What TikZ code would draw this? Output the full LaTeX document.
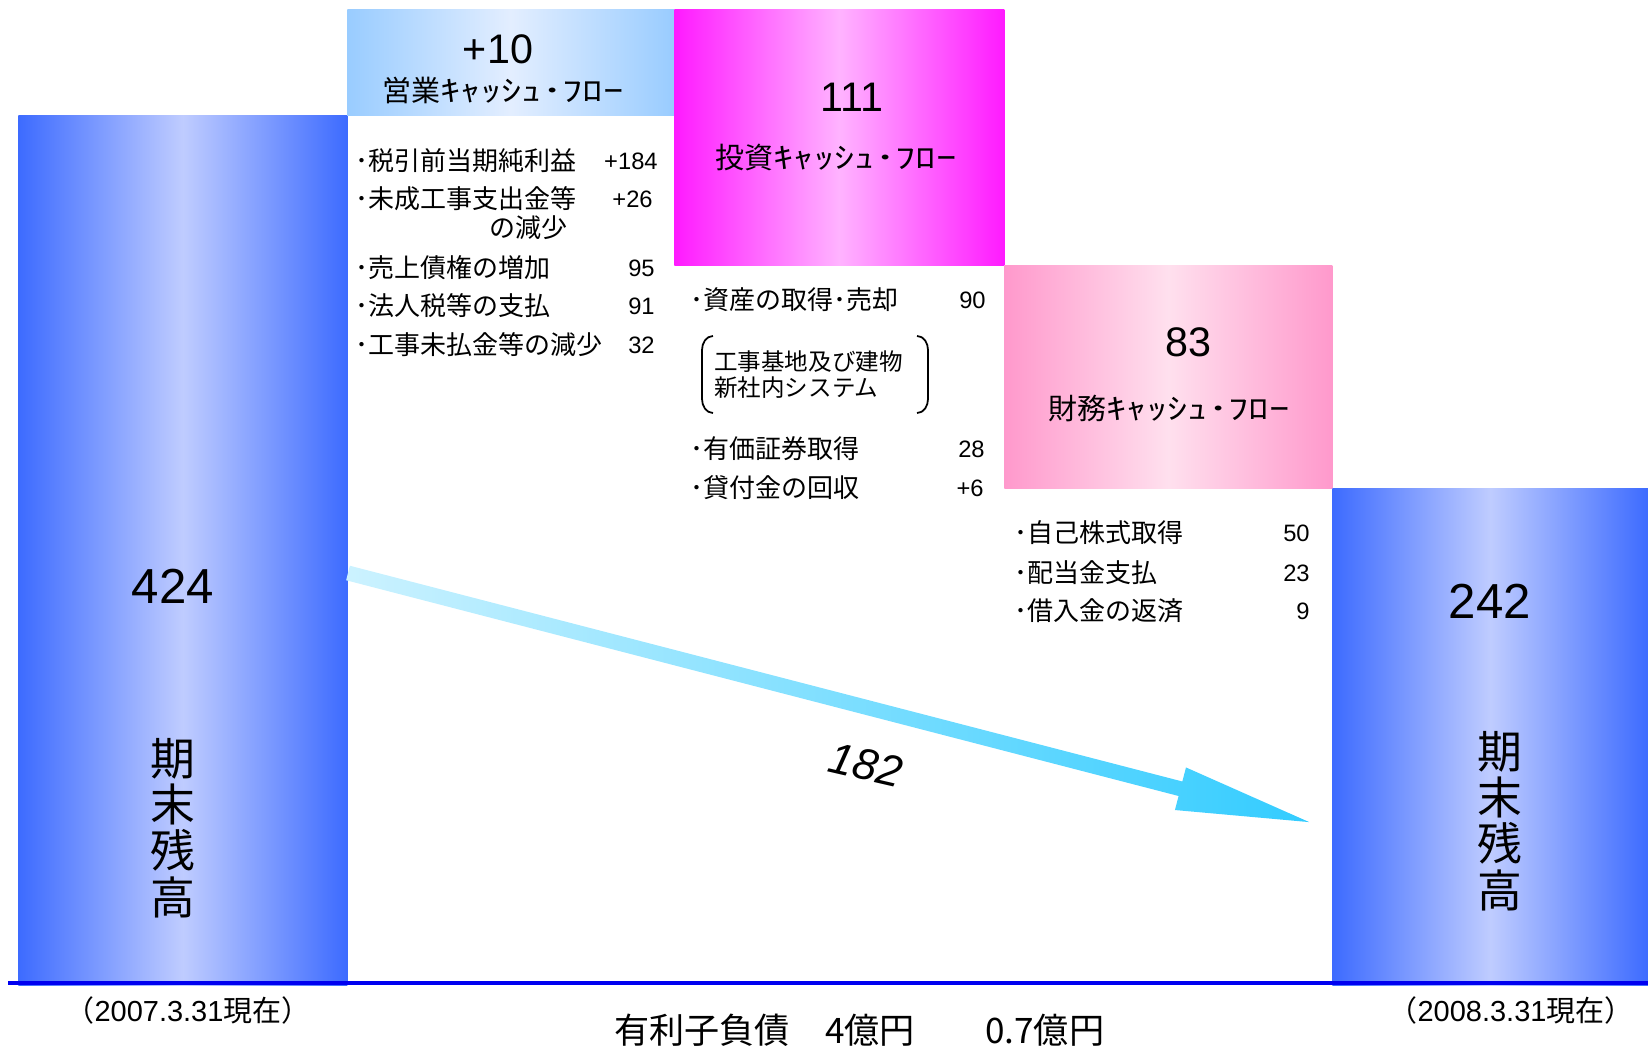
\documentclass[tikz,border=0pt]{standalone}
\usepackage{fontspec}
\setmainfont{Liberation Sans}
\newfontfamily\jp{Noto Sans CJK JP}
\newfontfamily\jpwide{Noto Sans CJK JP}[FakeStretch=1.4]
\definecolor{barblue}{HTML}{3D6BFF}
\definecolor{barlight}{HTML}{BFCCFF}
\definecolor{opedge}{HTML}{99CCFF}
\definecolor{opmid}{HTML}{E3EEFF}
\definecolor{invedge}{HTML}{FF1AFF}
\definecolor{invmid}{HTML}{FFB3FF}
\definecolor{finedge}{HTML}{FF99CC}
\definecolor{finmid}{HTML}{FFE0EE}
\definecolor{flowlight}{HTML}{CCF2FF}
\definecolor{flowdark}{HTML}{33CCFF}
\definecolor{baseblue}{HTML}{0000F0}
\begin{document}
\begin{tikzpicture}[x=0.02cm, y=-0.02cm,
    box/.style 2 args={inner sep=0pt, anchor=north west,
      minimum width=#1*0.02cm, minimum height=#2*0.02cm},
    barshade/.style={left color=barblue, right color=barblue, middle color=barlight},
    bignum/.style={font=\fontsize{23.5}{28}\selectfont},
    endnum/.style={font=\fontsize{28}{32}\selectfont},
    cflabel/.style={font=\jp\fontsize{16.5}{20}\selectfont},
    endname/.style={align=center, font=\jp\fontsize{25.5}{26.3}\selectfont},
    item/.style={anchor=west, inner sep=0pt, font=\jp\fontsize{14.8}{18}\selectfont},
    amount/.style={anchor=east, inner sep=0pt, font=\fontsize{13.5}{16}\selectfont},
    datelabel/.style={font=\fontsize{16.5}{20}\selectfont}]
  \useasboundingbox (0,0) rectangle (1648,1050);
  \node[box={329}{870}, barshade] (openbar) at (18,115) {};
  \node[box={327}{106}, left color=opedge, right color=opedge, middle color=opmid] (opcf) at (347,9) {};
  \node[box={330}{256}, left color=invedge, right color=invedge, middle color=invmid] (invcf) at (674,9) {};
  \node[box={328}{223}, left color=finedge, right color=finedge, middle color=finmid] (fincf) at (1004,265) {};
  \node[box={316}{497}, barshade] (closebar) at (1332,488) {};

  \coordinate (axisleft) at (8,983);
  \coordinate (axisright) at (1648,983);
  \draw[baseblue, line width=1.8pt] (axisleft) -- (axisright);

  \node[endnum] (openval) at (173,586) {424};
  \node[endname] (openname) at (173,828) {期\\末\\残\\高};
  \node[endnum] (closeval) at (1490,601) {242};
  \node[endname] (closename) at (1500,821) {期\\末\\残\\高};
  \node[datelabel] (opendate) at (188,1010) {{\jp （}2007.3.31{\jp 現在）}};
  \node[datelabel] (closedate) at (1511,1010) {{\jp （}2008.3.31{\jp 現在）}};

  \node[bignum] (opval) at (498,49) {+10};
  \node[cflabel] (opname) at (503,90) {営業{\jpwide ｷｬｯｼｭ･ﾌﾛｰ}};
  \node[bignum] (invval) at (852,97) {111};
  \node[cflabel] (invname) at (836,158) {投資{\jpwide ｷｬｯｼｭ･ﾌﾛｰ}};
  \node[bignum] (finval) at (1188,342) {83};
  \node[cflabel] (finname) at (1169,408) {財務{\jpwide ｷｬｯｼｭ･ﾌﾛｰ}};

  \node[item] (op1) at (355,161) {･税引前当期純利益};
  \node[amount] (op1v) at (658,161) {+184};
  \node[item] (op2) at (355,199) {･未成工事支出金等};
  \node[amount] (op2v) at (653,199) {+26};
  \node[item, anchor=east] (op2b) at (568,228) {の減少};
  \node[item] (op3) at (355,268) {･売上債権の増加};
  \node[amount] (op3v) at (655,268) {95};
  \node[item] (op4) at (355,306) {･法人税等の支払};
  \node[amount] (op4v) at (655,306) {91};
  \node[item] (op5) at (355,345) {･工事未払金等の減少};
  \node[amount] (op5v) at (655,345) {32};

  \node[item] (inv1) at (690,300) {･資産の取得･売却};
  \node[amount] (inv1v) at (986,300) {90};
  \node[item, align=left, font=\jp\fontsize{13.4}{14.8}\selectfont] (bldg) at (714,375)
    {工事基地及び建物\\新社内システム};
  \draw[line width=1pt] (713,336) to[out=180,in=90] (702,350) -- (702,399) to[out=-90,in=180] (713,413);
  \draw[line width=1pt] (917,336) to[out=0,in=90] (928,350) -- (928,399) to[out=-90,in=0] (917,413);
  \node[item] (inv2) at (690,449) {･有価証券取得};
  \node[amount] (inv2v) at (985,449) {28};
  \node[item] (inv3) at (690,488) {･貸付金の回収};
  \node[amount] (inv3v) at (984,488) {+6};

  \node[item] (fin1) at (1014,533) {･自己株式取得};
  \node[amount] (fin1v) at (1310,533) {50};
  \node[item] (fin2) at (1014,573) {･配当金支払};
  \node[amount] (fin2v) at (1310,573) {23};
  \node[item] (fin3) at (1014,611) {･借入金の返済};
  \node[amount] (fin3v) at (1310,611) {9};

  \coordinate (flowstart) at (348,573);
  \coordinate (flowend) at (1309,822);
  \begin{scope}[shift={(flowstart)}, rotate=-14.53]
    \shade[left color=flowlight, right color=flowdark]
      (0,-7.5) -- (860,-7.5) -- (860,-22) -- (993,0) -- (860,22) -- (860,7.5) -- (0,7.5) -- cycle;
  \end{scope}
  \node[rotate=-13, font=\itshape\fontsize{25}{30}\selectfont] (flowval) at (866,765) {182};

  \node[anchor=west, font=\jp\fontsize{20}{24}\selectfont] (debt) at (608,1030)
    {有利子負債　4億円　　0.7億円};
\end{tikzpicture}
\end{document}
